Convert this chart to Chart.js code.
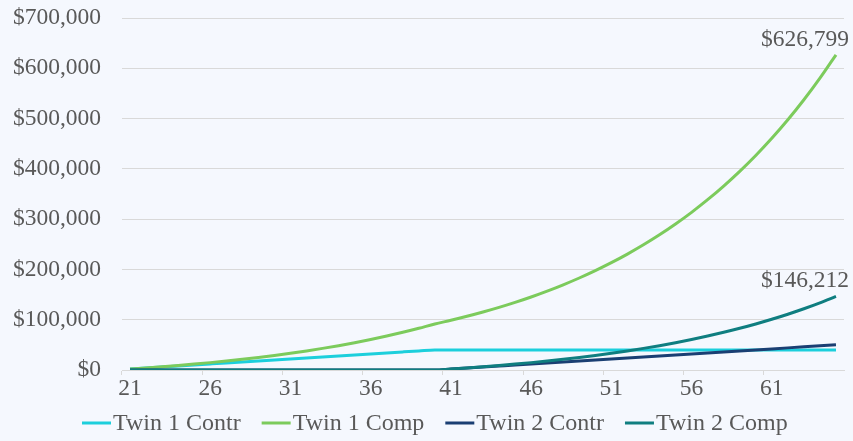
<!DOCTYPE html>
<html>
<head>
<meta charset="utf-8">
<script src="https://cdn.jsdelivr.net/npm/chart.js@4/dist/chart.umd.min.js"></script>
<style>
  html, body { margin: 0; padding: 0; background: #F5F8FE; }
  #wrap { width: 853px; height: 441px; position: relative; }
</style>
</head>
<body>
<div id="wrap"><canvas id="c" width="853" height="441"></canvas></div>
<script>
// Age of each twin, one point per year
const ages = [21,22,23,24,25,26,27,28,29,30,31,32,33,34,35,36,37,38,39,40,
              41,42,43,44,45,46,47,48,49,50,51,52,53,54,55,56,57,58,59,60,
              61,62,63,64,65];

// Twin 1: $2,000 a year from 21 to 40, then stops contributing
const twin1Contr = [2000,4000,6000,8000,10000,12000,14000,16000,18000,20000,
                    22000,24000,26000,28000,30000,32000,34000,36000,38000,40000,
                    40000,40000,40000,40000,40000,40000,40000,40000,40000,40000,
                    40000,40000,40000,40000,40000,40000,40000,40000,40000,40000,
                    40000,40000,40000,40000,40000];
const twin1Comp = [2000,4160,6493,9012,11733,14672,17846,21273,24975,28973,
                   33291,37954,42991,48430,54304,60649,67500,74901,82893,91524,
                   98846,106754,115294,124517,134479,145237,156856,169404,182957,197593,
                   213401,230473,248911,268824,290330,313556,338640,365732,394990,426589,
                   460716,497574,537380,580370,626799];

// Twin 2: starts at 41 and contributes $2,000 a year until 65
const twin2Contr = [0,0,0,0,0,0,0,0,0,0,0,0,0,0,0,0,0,0,0,0,
                    2000,4000,6000,8000,10000,12000,14000,16000,18000,20000,
                    22000,24000,26000,28000,30000,32000,34000,36000,38000,40000,
                    42000,44000,46000,48000,50000];
const twin2Comp = [0,0,0,0,0,0,0,0,0,0,0,0,0,0,0,0,0,0,0,0,
                   2000,4160,6493,9012,11733,14672,17846,21273,24975,28973,
                   33291,37954,42991,48430,54304,60649,67500,74901,82893,91524,
                   100846,110914,121787,133530,146212];

const seriesNames = ['Twin 1 Contr', 'Twin 1 Comp', 'Twin 2 Contr', 'Twin 2 Comp'];
const seriesColors = ['#1CCFDC', '#7CCB5C', '#1A3F73', '#0F7E80'];

const FAMILY = '"Liberation Serif", "Times New Roman", serif';
const FONT = { family: FAMILY, size: 23.5, lineHeight: 1 };
const LEGEND_SIZE = 24;
const TEXT = '#595959';
const GRID = '#D9D9D9';

const money = v => '$' + Math.round(v).toLocaleString('en-US');

// Labels the final value of the compounded series
const endLabels = {
  id: 'endLabels',
  afterDatasetsDraw(chart) {
    const ctx = chart.ctx;
    ctx.save();
    ctx.font = `${FONT.size}px ${FAMILY}`;
    ctx.fillStyle = TEXT;
    ctx.textAlign = 'right';
    ctx.textBaseline = 'alphabetic';
    [1, 3].forEach(di => {
      const meta = chart.getDatasetMeta(di);
      const data = chart.data.datasets[di].data;
      const last = meta.data[data.length - 1];
      const text = money(data[data.length - 1]);
      const w = ctx.measureText(text).width;
      const x = Math.min(last.x + w / 2, chart.width - 4);
      ctx.fillText(text, x, last.y - 9);
    });
    ctx.restore();
  }
};

// Single-row legend with short line swatches under the axis
const lineLegend = {
  id: 'lineLegend',
  afterDraw(chart) {
    const ctx = chart.ctx;
    ctx.save();
    ctx.font = `${LEGEND_SIZE}px ${FAMILY}`;
    ctx.textBaseline = 'middle';
    ctx.textAlign = 'left';
    const y = 423;
    let x = 82;
    chart.data.datasets.forEach(ds => {
      ctx.strokeStyle = ds.borderColor;
      ctx.lineWidth = 3;
      ctx.beginPath();
      ctx.moveTo(x, y);
      ctx.lineTo(x + 29, y);
      ctx.stroke();
      x += 31;
      ctx.fillStyle = TEXT;
      ctx.fillText(ds.label, x, y + 1);
      x += ctx.measureText(ds.label).width + 21;
    });
    ctx.restore();
  }
};

const series = [twin1Contr, twin1Comp, twin2Contr, twin2Comp];

new Chart(document.getElementById('c'), {
  type: 'line',
  data: {
    labels: ages,
    datasets: series.map((vals, i) => ({
      label: seriesNames[i],
      data: vals,
      borderColor: seriesColors[i],
      backgroundColor: seriesColors[i],
      borderWidth: 3,
      pointRadius: 0,
      pointHoverRadius: 0,
      tension: 0.4,
      cubicInterpolationMode: 'monotone',
      fill: false,
      order: series.length - 1 - i
    }))
  },
  options: {
    responsive: false,
    animation: false,
    events: [],
    layout: { padding: { top: 18, right: 9, bottom: 41, left: 0 } },
    plugins: {
      legend: { display: false },
      tooltip: { enabled: false }
    },
    scales: {
      x: {
        type: 'category',
        offset: true,
        afterFit(scale) { scale.height = 30; },
        border: { display: true, color: GRID, width: 1 },
        grid: {
          offset: true,
          drawOnChartArea: false,
          drawTicks: true,
          tickLength: 5,
          color: ctx => (ctx.index % 5 === 0 ? GRID : 'rgba(0,0,0,0)')
        },
        ticks: {
          autoSkip: false,
          maxRotation: 0,
          padding: 2,
          color: TEXT,
          font: FONT,
          callback(value, index) {
            return index % 5 === 0 ? String(ages[index]) : '';
          }
        }
      },
      y: {
        min: 0,
        max: 700000,
        afterFit(scale) {
          scale.width = 122;
          scale.paddingTop = 0;
          scale.paddingBottom = 0;
        },
        border: { display: false },
        grid: { color: GRID, lineWidth: 1, drawTicks: false },
        ticks: {
          stepSize: 100000,
          padding: 21,
          color: TEXT,
          font: FONT,
          callback: v => money(v)
        }
      }
    }
  },
  plugins: [endLabels, lineLegend]
});
</script>
</body>
</html>
